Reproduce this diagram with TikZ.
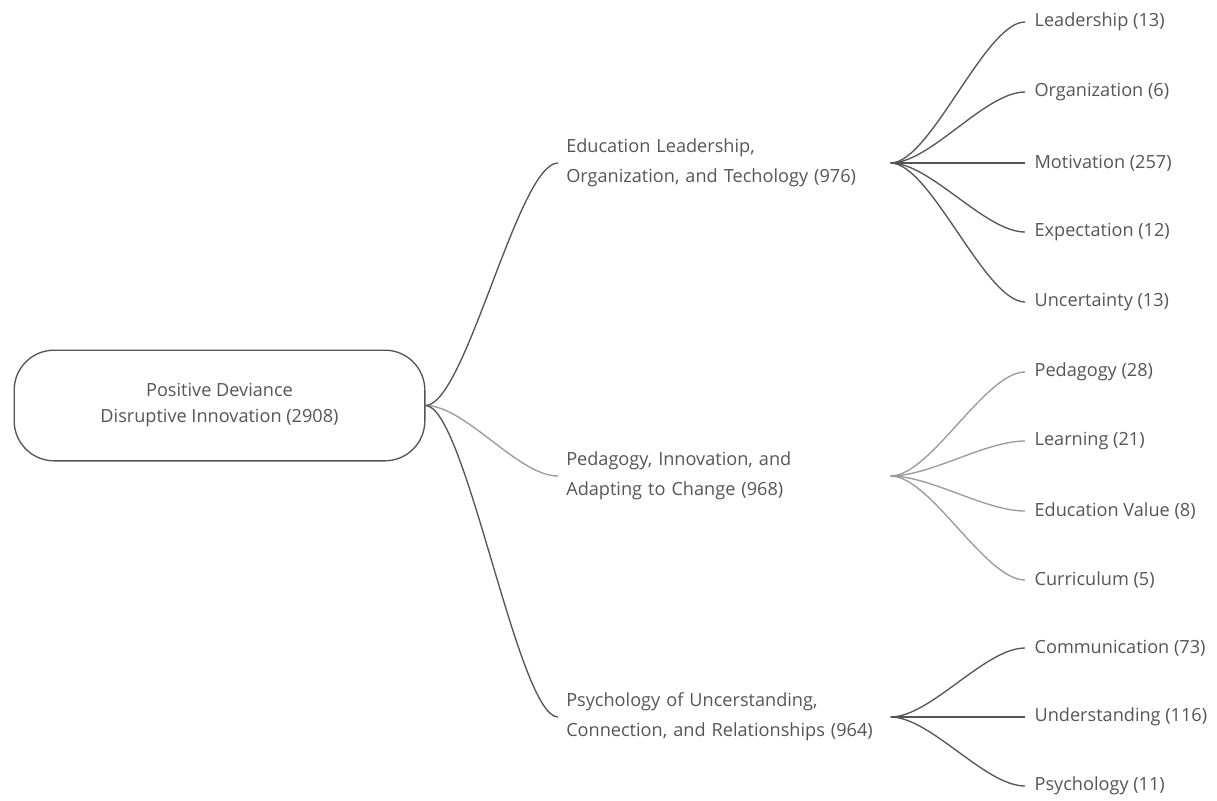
\documentclass[tikz,border=0pt]{standalone}
\usepackage{fontspec}
\setmainfont{Open Sans}
\usepackage{xcolor}
\usepackage{tikz}
\usetikzlibrary{positioning}

\definecolor{textgray}{HTML}{555555}
\definecolor{linedark}{HTML}{555555}
\definecolor{linelight}{HTML}{9A9A9A}

\begin{document}
\begin{tikzpicture}[
    x=0.75pt, y=-0.75pt,
    every node/.style={font=\fontsize{13.6}{22.5}\selectfont, text=textgray},
    rootbox/.style={
        rectangle,
        rounded corners=30pt,
        draw=linedark,
        line width=1pt,
        align=center,
        minimum width=308pt,
        minimum height=83pt,
        font=\fontsize{13.6}{19.5}\selectfont
    },
    topic/.style={
        align=left,
        text width=237pt,
        inner xsep=6pt,
        inner ysep=2pt
    },
    leaf/.style={
        anchor=west,
        inner xsep=7pt
    },
    branch/.style={line width=1pt, draw=linedark},
    lightbranch/.style={line width=1pt, draw=linelight}
]

\useasboundingbox (0,0) rectangle (1217,800);

\node[rootbox] (root) at (219.5,405.5)
{Positive Deviance\\Disruptive Innovation (2908)};

\node[topic, anchor=west] (lead) at (558,163)
{Education Leadership,\\Organization, and Techology (976)};

\node[topic, anchor=west] (peda) at (558,476)
{Pedagogy, Innovation, and\\Adapting to Change (968)};

\node[topic, anchor=west] (psyc) at (558,717)
{Psychology of Uncerstanding,\\Connection, and Relationships (964)};

% first group
\node[leaf] (leadership) at (1025,22) {Leadership (13)};
\node[leaf] (organization) at (1025,92) {Organization (6)};
\node[leaf] (motivation) at (1025,163) {Motivation (257)};
\node[leaf] (expectation) at (1025,232) {Expectation (12)};
\node[leaf] (uncertainty) at (1025,302) {Uncertainty (13)};

% second group
\node[leaf] (pedagogy) at (1025,372) {Pedagogy (28)};
\node[leaf] (learning) at (1025,441) {Learning (21)};
\node[leaf] (eduvalue) at (1025,511) {Education Value (8)};
\node[leaf] (curriculum) at (1025,580) {Curriculum (5)};

% third group
\node[leaf] (communication) at (1025,648) {Communication (73)};
\node[leaf] (understanding) at (1025,717) {Understanding (116)};
\node[leaf] (psychology) at (1025,786) {Psychology (11)};

\draw[branch] (root.east) .. controls +(40,0) and +(-40,0) .. (lead.west);
\draw[lightbranch] (root.east) .. controls +(40,0) and +(-40,0) .. (peda.west);
\draw[branch] (root.east) .. controls +(40,0) and +(-40,0) .. (psyc.west);

\draw[branch] (lead.east) .. controls +(40,0) and +(-40,0) .. (leadership.west);
\draw[branch] (lead.east) .. controls +(40,0) and +(-40,0) .. (organization.west);
\draw[branch] (lead.east) -- (motivation.west);
\draw[branch] (lead.east) .. controls +(40,0) and +(-40,0) .. (expectation.west);
\draw[branch] (lead.east) .. controls +(40,0) and +(-40,0) .. (uncertainty.west);

\draw[lightbranch] (peda.east) .. controls +(40,0) and +(-40,0) .. (pedagogy.west);
\draw[lightbranch] (peda.east) .. controls +(40,0) and +(-40,0) .. (learning.west);
\draw[lightbranch] (peda.east) .. controls +(40,0) and +(-40,0) .. (eduvalue.west);
\draw[lightbranch] (peda.east) .. controls +(40,0) and +(-40,0) .. (curriculum.west);

\draw[branch] (psyc.east) .. controls +(40,0) and +(-40,0) .. (communication.west);
\draw[branch] (psyc.east) -- (understanding.west);
\draw[branch] (psyc.east) .. controls +(40,0) and +(-40,0) .. (psychology.west);

\end{tikzpicture}
\end{document}
